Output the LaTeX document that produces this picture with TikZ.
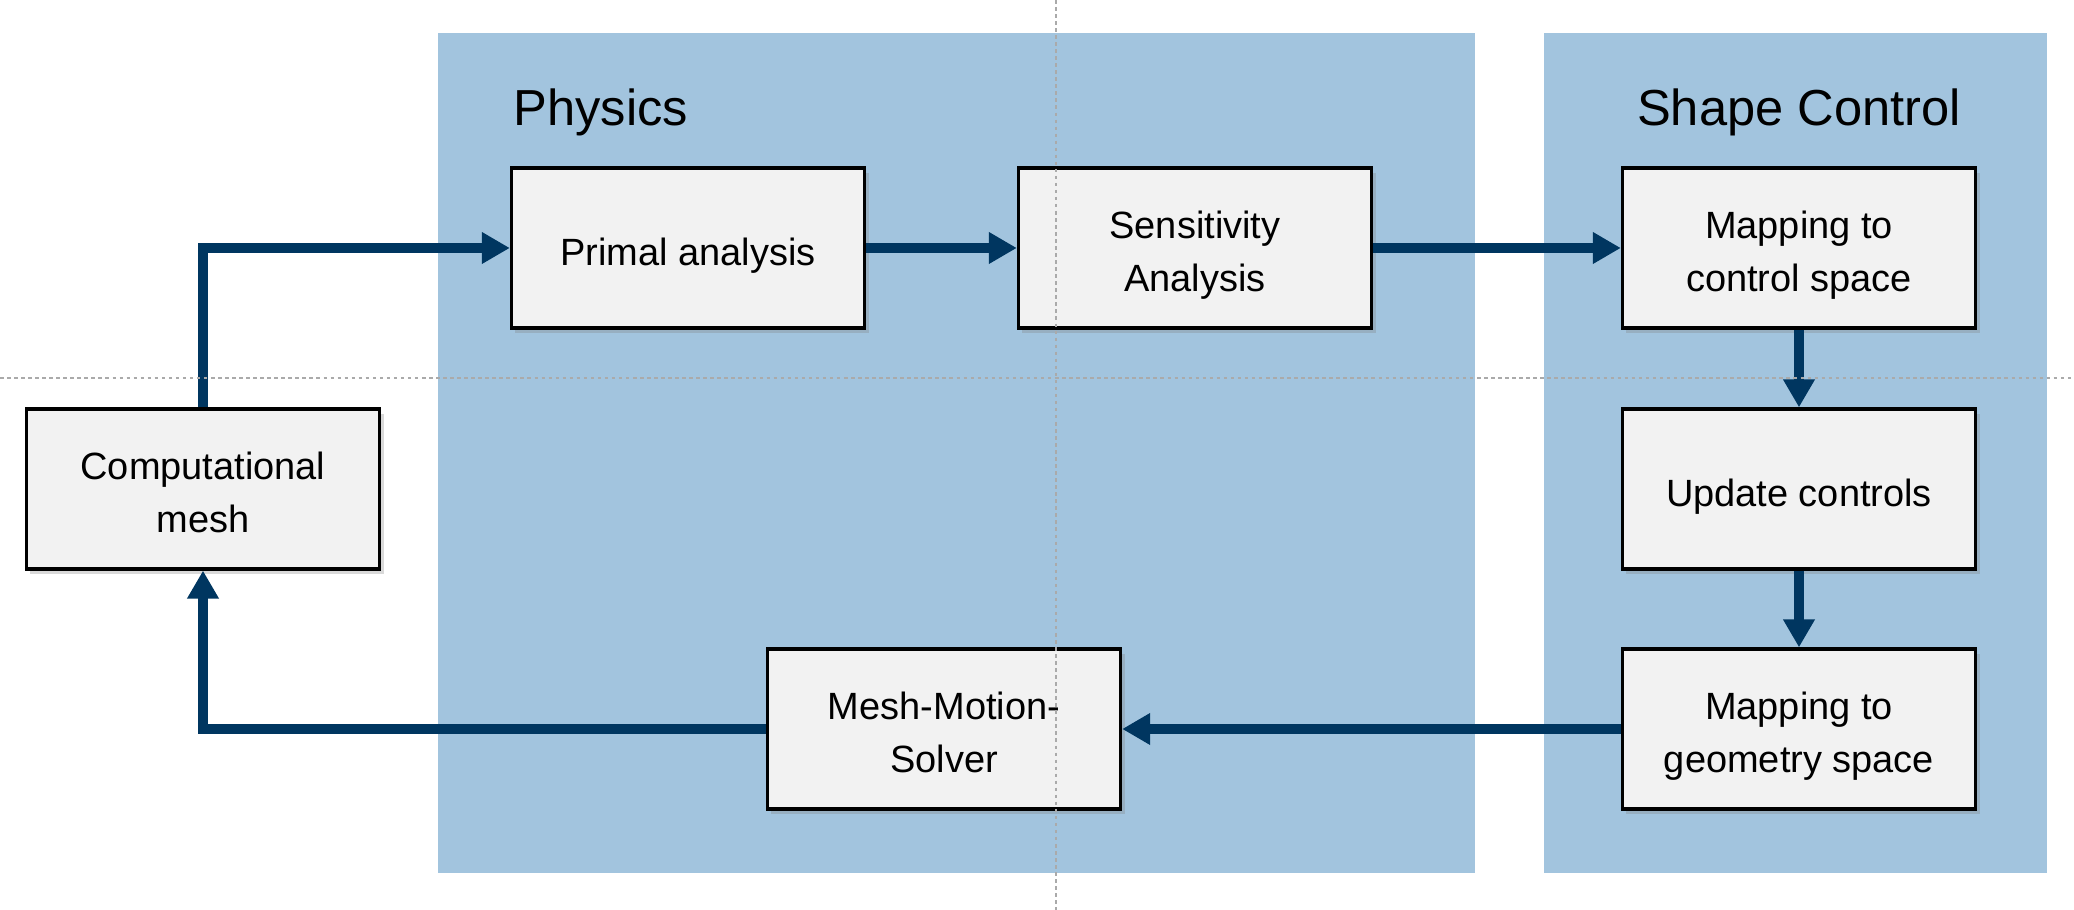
\documentclass[tikz,border=0pt]{standalone}
\usepackage{fontspec}
\setmainfont{Liberation Sans}
\usepackage{tikz}
\usetikzlibrary{arrows.meta,shadows}

\definecolor{panelblue}{RGB}{162,196,222}
\definecolor{boxgray}{RGB}{242,242,242}
\definecolor{flownavy}{RGB}{0,54,96}
\definecolor{guidegray}{RGB}{170,170,170}

\begin{document}
\begin{tikzpicture}[x=0.01cm,y=-0.01cm,
    block/.style={draw=black,line width=0.9pt,fill=boxgray,minimum width=3.53cm,minimum height=1.60cm,
      inner sep=0pt,align=center,font=\fontsize{10.8}{15.1}\selectfont,
      text height=11.5pt,text depth=1.8pt,
      drop shadow={shadow xshift=0.04cm,shadow yshift=-0.05cm,opacity=0.3}},
    twolines/.style={block,text height=26.6pt},
    flow/.style={draw=flownavy,line width=2.6pt,-{Triangle[length=0.28cm,width=0.30cm]}},
    panel/.style={fill=panelblue,draw=none},
    title/.style={inner sep=0pt,font=\fontsize{14.4}{17}\selectfont},
    guide/.style={draw=guidegray,line width=0.3pt,dash pattern=on 1pt off 1pt}]
  \useasboundingbox (0,0) rectangle (2074,910);
  \fill[panel] (438,33) rectangle (1475,873);
  \fill[panel] (1544,33) rectangle (2047,873);
  \node[title,anchor=base west] (physics) at (513,126) {Physics};
  \node[title,anchor=base] (shape) at (1799,126) {Shape Control};
  \node[twolines] (mesh) at (203,489) {Computational\\mesh};
  \node[block] (primal) at (688,248) {Primal analysis};
  \node[twolines] (sens) at (1195,248) {Sensitivity\\Analysis};
  \node[twolines] (mapctrl) at (1799,248) {Mapping to\\control space};
  \node[block] (update) at (1799,489) {Update controls};
  \node[twolines] (mapgeo) at (1799,729) {Mapping to\\geometry space};
  \node[twolines] (solver) at (944,729) {Mesh-Motion-\\Solver};
  \draw[flow] (mesh.north) |- (primal.west);
  \draw[flow] (primal) -- (sens);
  \draw[flow] (sens) -- (mapctrl);
  \draw[flow] (mapctrl) -- (update);
  \draw[flow] (update) -- (mapgeo);
  \draw[flow] (mapgeo) -- (solver);
  \draw[flow] (solver.west) -| (mesh.south);
  \draw[guide] (1056,0) -- (1056,910);
  \draw[guide] (0,378) -- (2074,378);
\end{tikzpicture}
\end{document}
